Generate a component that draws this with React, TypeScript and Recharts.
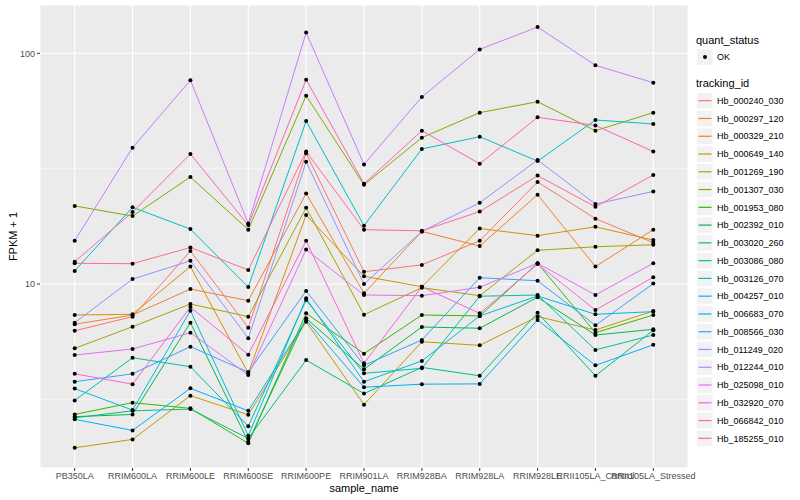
import React from "react";
import { LineChart, Line, XAxis, YAxis, CartesianGrid, ReferenceLine } from "recharts";

const sampleNames = [
  "PB350LA",
  "RRIM600LA",
  "RRIM600LE",
  "RRIM600SE",
  "RRIM600PE",
  "RRIM901LA",
  "RRIM928BA",
  "RRIM928LA",
  "RRIM928LE",
  "RRII105LA_Control",
  "RRII105LA_Stressed",
];

const trackingIds = [
  "Hb_000240_030",
  "Hb_000297_120",
  "Hb_000329_210",
  "Hb_000649_140",
  "Hb_001269_190",
  "Hb_001307_030",
  "Hb_001953_080",
  "Hb_002392_010",
  "Hb_003020_260",
  "Hb_003086_080",
  "Hb_003126_070",
  "Hb_004257_010",
  "Hb_006683_070",
  "Hb_008566_030",
  "Hb_011249_020",
  "Hb_012244_010",
  "Hb_025098_010",
  "Hb_032920_070",
  "Hb_066842_010",
  "Hb_185255_010",
];

// FPKM + 1, one value per sample
const hb000240_030 = [6.27, 7.22, 13.9, 6.47, 36.9, 11.3, 12.1, 15.4, 27.7, 19.2, 15.1];
const hb000297_120 = [6.69, 7.34, 9.51, 8.47, 24.7, 9.11, 16.9, 14.6, 24.4, 11.9, 17.2];
const hb000329_210 = [7.34, 7.39, 11.9, 4.11, 19.9, 10.8, 9.73, 17.4, 16.2, 17.7, 15.5];
const hb000649_140 = [1.95, 2.12, 3.28, 2.71, 6.86, 3.0, 5.62, 5.42, 7.22, 6.32, 7.64];
const hb001269_190 = [5.26, 6.53, 8.19, 7.22, 21.4, 7.36, 9.64, 8.9, 14.0, 14.5, 14.8];
const hb001307_030 = [21.8, 19.7, 29.1, 17.2, 65.5, 26.9, 43.1, 55.3, 61.7, 46.2, 55.3];
const hb001953_080 = [2.72, 3.06, 2.89, 2.04, 7.46, 4.99, 7.34, 7.27, 12.3, 6.15, 7.34];
const hb002392_010 = [2.66, 2.72, 6.8, 2.07, 7.1, 4.27, 6.51, 6.43, 8.76, 6.01, 6.36];
const hb003020_260 = [2.63, 2.82, 2.87, 2.14, 4.68, 3.35, 4.35, 4.0, 7.5, 4.0, 6.3];
const hb003086_080 = [3.13, 4.79, 4.38, 2.42, 8.52, 4.1, 4.31, 8.85, 8.96, 5.18, 6.01];
const hb003126_070 = [11.4, 21.5, 17.3, 9.7, 50.9, 17.9, 38.5, 43.5, 34.1, 51.4, 49.4];
const hb004257_010 = [3.52, 2.84, 7.66, 2.2, 8.67, 3.77, 4.64, 7.27, 8.87, 7.39, 7.59];
const hb006683_070 = [2.59, 2.32, 3.53, 2.82, 6.98, 3.57, 3.68, 3.69, 6.98, 4.44, 5.45];
const hb008566_030 = [3.77, 4.08, 5.35, 4.15, 9.33, 4.44, 5.72, 10.65, 10.33, 6.62, 10.04];
const hb011249_020 = [6.8, 10.5, 12.6, 5.82, 33.9, 10.0, 16.9, 22.5, 34.5, 22.2, 25.2];
const hb012244_010 = [15.4, 39.0, 76.4, 18.3, 123, 33.0, 64.7, 104, 130, 88.7, 74.6];
const hb025098_010 = [4.92, 5.23, 6.15, 4.03, 14.1, 8.96, 8.9, 9.68, 12.3, 8.96, 12.3];
const hb032920_070 = [4.08, 3.68, 7.95, 4.94, 15.4, 4.53, 9.73, 7.46, 12.2, 7.71, 10.7];
const hb066842_010 = [12.5, 20.5, 36.6, 18.0, 76.9, 27.2, 46.2, 33.2, 52.8, 48.7, 37.5];
const hb185255_010 = [12.3, 12.25, 14.4, 11.5, 37.5, 17.2, 17.0, 20.6, 29.5, 21.6, 29.7];

const seriesValues = [
  hb000240_030, hb000297_120, hb000329_210, hb000649_140, hb001269_190,
  hb001307_030, hb001953_080, hb002392_010, hb003020_260, hb003086_080,
  hb003126_070, hb004257_010, hb006683_070, hb008566_030, hb011249_020,
  hb012244_010, hb025098_010, hb032920_070, hb066842_010, hb185255_010,
];

const yTicks = [10, 100];
const yMinor = [3.1623, 31.623];

const data = sampleNames.map((s, i) => {
  const row: Record<string, string | number> = { sample_name: s };
  trackingIds.forEach((id, j) => {
    row[id] = seriesValues[j][i];
  });
  return row;
});

// ggplot-style hue palette (HCL, l=65, c=100)
function hclColor(h: number, c = 100, l = 65) {
  const hr = (h * Math.PI) / 180;
  const U = c * Math.cos(hr);
  const V = c * Math.sin(hr);
  const Xn = 95.047, Yn = 100, Zn = 108.883;
  const den = Xn + 15 * Yn + 3 * Zn;
  const un = (4 * Xn) / den;
  const vn = (9 * Yn) / den;
  const Y = Yn * (l > 8 ? Math.pow((l + 16) / 116, 3) : l / 903.3);
  const u = U / (13 * l) + un;
  const v = V / (13 * l) + vn;
  const X = (9 * Y * u) / (4 * v);
  const Z = -X / 3 - 5 * Y + (3 * Y) / v;
  const x = X / 100, y = Y / 100, z = Z / 100;
  const r = 3.240479 * x - 1.53715 * y - 0.498535 * z;
  const g = -0.969256 * x + 1.875992 * y + 0.041556 * z;
  const b = 0.055648 * x - 0.204043 * y + 1.057311 * z;
  const gam = (t: number) => (t <= 0.0031308 ? 12.92 * t : 1.055 * Math.pow(t, 1 / 2.4) - 0.055);
  const hex = (t: number) =>
    Math.round(Math.min(1, Math.max(0, gam(t))) * 255).toString(16).padStart(2, "0");
  return "#" + hex(r) + hex(g) + hex(b);
}

const colors = trackingIds.map((_, i) => hclColor(15 + (360 / trackingIds.length) * i));

const FONT = '"Liberation Sans", Arial, Helvetica, sans-serif';

const Overlay = () => (
  <svg
    width={800}
    height={500}
    style={{ position: "absolute", left: 0, top: 0, pointerEvents: "none" }}
    fontFamily={FONT}
  >
    <text x={13} y={236.5} transform="rotate(-90 13 236.5)" textAnchor="middle" dominantBaseline="central" fontSize={11} fill="#000">
      FPKM + 1
    </text>
    <text x={696} y={44} fontSize={11} fill="#000">quant_status</text>
    <rect x={697} y={49.3} width={15.5} height={15.5} fill="#F2F2F2" />
    <circle cx={705} cy={57} r={2} fill="#000" />
    <text x={717} y={60.2} fontSize={9} fill="#000">OK</text>
    <text x={696} y={86.5} fontSize={11} fill="#000">tracking_id</text>
    {trackingIds.map((id, i) => {
      const cy = 100.7 + 17.77 * i;
      return (
        <g key={id}>
          <rect x={697} y={cy - 7.75} width={15.5} height={15.5} fill="#F2F2F2" />
          <line x1={698.5} x2={711.5} y1={cy} y2={cy} stroke={colors[i]} strokeWidth={1.2} />
          <text x={717} y={cy + 3.2} fontSize={9} fill="#000">{id}</text>
        </g>
      );
    })}
  </svg>
);

export default function App() {
  return (
    <div style={{ position: "absolute", left: 0, top: 0, width: 800, height: 500, background: "#fff", fontFamily: FONT }}>
      <LineChart width={800} height={500} data={data} margin={{ top: 5, right: 112, bottom: 0, left: 0 }}>
        <CartesianGrid fill="#EBEBEB" stroke="#FFFFFF" strokeWidth={1.1} />
        {yMinor.map((v) => (
          <ReferenceLine key={v} y={v} stroke="#FFFFFF" strokeWidth={0.55} />
        ))}
        <XAxis
          dataKey="sample_name"
          interval={0}
          padding={{ left: 34.7, right: 34.7 }}
          axisLine={false}
          tickSize={3}
          tickMargin={2}
          tickLine={{ stroke: "#333333" }}
          tick={{ fontSize: 9, fill: "#4D4D4D", fontFamily: FONT }}
          height={32}
          label={{ value: "sample_name", position: "insideBottom", offset: 8, fontSize: 11, fill: "#000", fontFamily: FONT }}
        />
        <YAxis
          scale="log"
          domain={[1.5937, 161.97]}
          allowDataOverflow
          ticks={yTicks}
          width={40}
          axisLine={false}
          tickSize={3}
          tickMargin={2}
          tickLine={{ stroke: "#333333" }}
          tick={{ fontSize: 9, fill: "#4D4D4D", fontFamily: FONT }}
        />
        {trackingIds.map((id, i) => (
          <Line
            key={id}
            dataKey={id}
            type="linear"
            stroke={colors[i]}
            strokeWidth={1}
            dot={false}
            activeDot={false}
            isAnimationActive={false}
          />
        ))}
        {trackingIds.map((id) => (
          <Line
            key={id + "_pt"}
            dataKey={id}
            type="linear"
            stroke="none"
            dot={{ r: 2, fill: "#000", stroke: "none" }}
            activeDot={false}
            legendType="none"
            isAnimationActive={false}
          />
        ))}
      </LineChart>
      <Overlay />
    </div>
  );
}
